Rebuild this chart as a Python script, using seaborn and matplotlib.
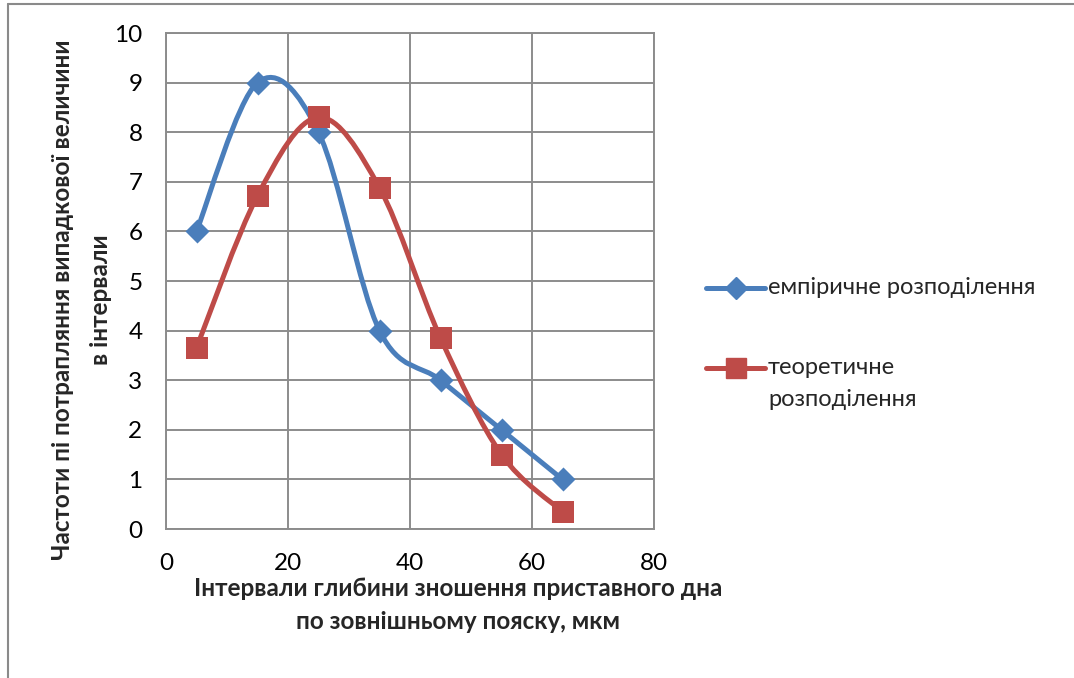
import numpy as np
import pandas as pd
import matplotlib
matplotlib.use("Agg")
import matplotlib.pyplot as plt
from matplotlib.path import Path
from matplotlib.patches import PathPatch
from matplotlib.lines import Line2D
import seaborn as sns

# interval midpoints, µm
interval_mid = [5, 15, 25, 35, 45, 55, 65]
# observed frequencies
empirical = [6, 9, 8, 4, 3, 2, 1]
# theoretical frequencies
theoretical = [3.65, 6.72, 8.3, 6.88, 3.85, 1.5, 0.35]

label_emp = "емпіричне розподілення"
label_theo = ["теоретичне", "розподілення"]
xlabel = "Інтервали глибини зношення приставного дна\nпо зовнішньому пояску, мкм"
ylabel = "Частоти пі потрапляння випадкової величини\nв інтервали"
x_ticks = [0, 20, 40, 60, 80]
y_ticks = list(range(0, 11))

BLUE = "#4A7EBB"
RED = "#BE4B48"
GRID = "#8C8C8C"
W, H = 1074, 678
AX_L, AX_B, AX_W, AX_H = 166, 529, 488, 496

sns.set_style("white")
plt.rcParams["font.family"] = ["Lato", "DejaVu Sans"]


def smooth_path(xs, ys):
    """Cubic Bezier path through the points (Catmull-Rom tangents)."""
    pts = np.column_stack([xs, ys]).astype(float)
    n = len(pts)
    verts = [pts[0]]
    codes = [Path.MOVETO]
    for i in range(n - 1):
        p0 = pts[i - 1] if i > 0 else pts[i]
        p1 = pts[i]
        p2 = pts[i + 1]
        p3 = pts[i + 2] if i + 2 < n else pts[i + 1]
        c1 = p1 + (p2 - p0) / 6.0
        c2 = p2 - (p3 - p1) / 6.0
        verts += [c1, c2, p2]
        codes += [Path.CURVE4] * 3
    return Path(verts, codes)


def fx(px):
    return px / W


def fy(py):
    return 1 - py / H


fig = plt.figure(figsize=(W / 100, H / 100), dpi=100)
ax = fig.add_axes([fx(AX_L), fy(AX_B), AX_W / W, AX_H / H])

df = pd.DataFrame({"x": interval_mid, "emp": empirical, "theo": theoretical})

for col, color in (("emp", BLUE), ("theo", RED)):
    ax.add_patch(PathPatch(smooth_path(df["x"], df[col]), facecolor="none",
                           edgecolor=color, lw=3.6, capstyle="round",
                           joinstyle="round", zorder=3))

sns.scatterplot(data=df, x="x", y="emp", marker="D", s=150, color=BLUE,
                edgecolor=BLUE, linewidth=0, ax=ax, zorder=4, legend=False)
sns.scatterplot(data=df, x="x", y="theo", marker="s", s=240, color=RED,
                edgecolor=RED, linewidth=0, ax=ax, zorder=5, legend=False)

ax.set_xlim(0, 80)
ax.set_ylim(0, 10)
ax.set_xticks(x_ticks)
ax.set_yticks(y_ticks)
ax.grid(True, color=GRID, lw=1.4)
ax.set_axisbelow(True)
for s in ax.spines.values():
    s.set_color(GRID)
    s.set_linewidth(1.4)
ax.tick_params(axis="both", length=0, labelsize=17.5, colors="black")
ax.tick_params(axis="y", pad=17)
ax.tick_params(axis="x", pad=17)

ax.set_xlabel(xlabel, fontsize=17.5, fontweight="bold", linespacing=1.55)
ax.set_ylabel(ylabel, fontsize=17.5, fontweight="bold", linespacing=1.8)
ax.xaxis.set_label_coords((458 - AX_L) / AX_W, (AX_B - 577) / AX_H)
ax.yaxis.set_label_coords((112 - AX_L) / AX_W, (AX_B - 300) / AX_H)

# legend, drawn as sample lines with markers plus labels
legend_rows = [
    (288, BLUE, "D", 11, [label_emp]),
    (368, RED, "s", 15, label_theo),
]
for y, color, mk, ms, lines in legend_rows:
    fig.add_artist(Line2D([fx(706), fx(736), fx(765)], [fy(y)] * 3,
                          transform=fig.transFigure, color=color, lw=3.6,
                          marker=mk, markersize=ms, markevery=[1],
                          solid_capstyle="round"))
    for k, line in enumerate(lines):
        fig.text(fx(768), fy(y + 32 * k), line, fontsize=17, va="center",
                 ha="left")

# outer chart frame (left and top edges)
fig.add_artist(Line2D([fx(8), fx(8)], [0, fy(4)],
                      transform=fig.transFigure, color="#8A8A8A", lw=1.5))
fig.add_artist(Line2D([fx(8), 1], [fy(4), fy(4)],
                      transform=fig.transFigure, color="#8A8A8A", lw=1.5))

fig.savefig("out.png", dpi=100, facecolor="white")
